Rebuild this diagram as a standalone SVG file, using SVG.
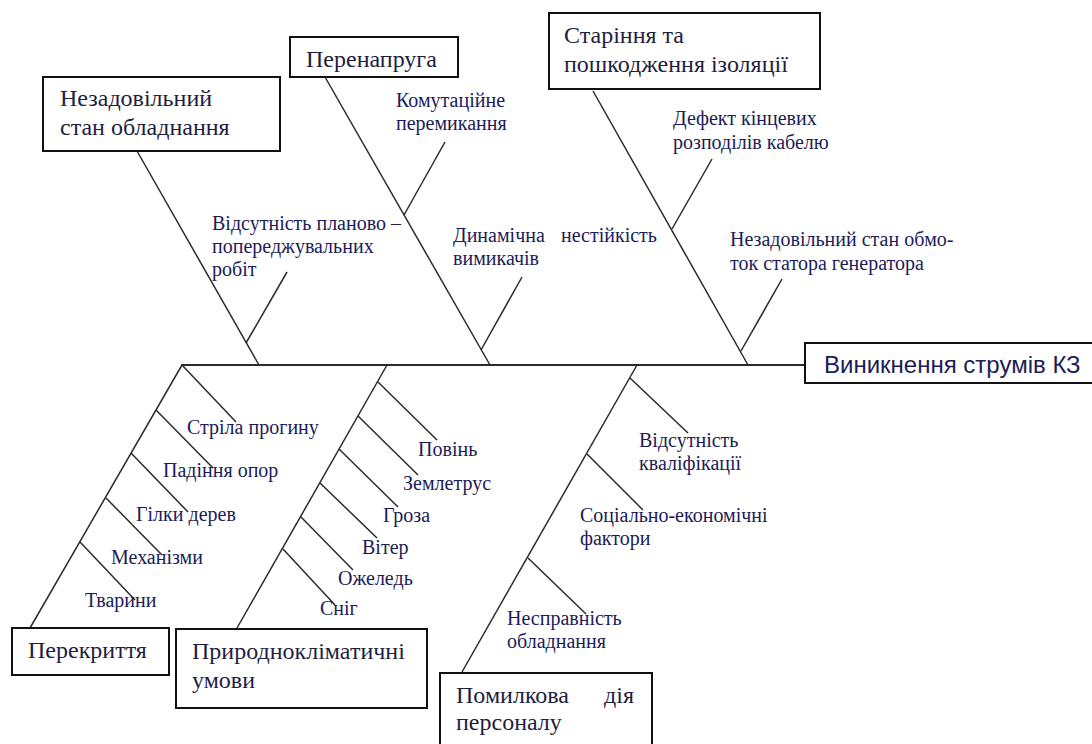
<svg xmlns="http://www.w3.org/2000/svg" width="1092" height="744" viewBox="0 0 1092 744">
<style>
.box{fill:#fff;stroke:#111;stroke-width:2}
.bt{font-family:"Liberation Serif","Times New Roman",serif;font-size:24px;fill:#1e1e40}
.lb{font-family:"Liberation Serif","Times New Roman",serif;font-size:20px;fill:#1c1c58}
.eff{font-family:"Liberation Sans",Arial,sans-serif;font-size:24px;fill:#1c1c58}
.bone{stroke:#2b2b2b;stroke-width:1.5;fill:none}
.spine{stroke:#2b2b2b;stroke-width:2;fill:none}
</style>
<rect width="1092" height="744" fill="#fff"/>
<g id="connectors">
<line class="spine" x1="181" y1="365" x2="805" y2="365"/>
<line class="bone" x1="137" y1="151" x2="259" y2="365"/>
<line class="bone" x1="246" y1="343" x2="287" y2="272"/>
<line class="bone" x1="325" y1="77" x2="490" y2="365"/>
<line class="bone" x1="404" y1="215" x2="445" y2="142"/>
<line class="bone" x1="481" y1="350" x2="522" y2="277"/>
<line class="bone" x1="593" y1="91" x2="748" y2="365"/>
<line class="bone" x1="672" y1="229" x2="712" y2="159"/>
<line class="bone" x1="741" y1="351" x2="782" y2="279"/>
<line class="bone" x1="182" y1="365" x2="30" y2="628"/>
<line class="bone" x1="182" y1="365" x2="236" y2="422"/>
<line class="bone" x1="156" y1="410" x2="213" y2="468"/>
<line class="bone" x1="131" y1="453" x2="188" y2="512"/>
<line class="bone" x1="106" y1="498" x2="162" y2="555"/>
<line class="bone" x1="80" y1="542" x2="135" y2="600"/>
<line class="bone" x1="387" y1="365" x2="237" y2="628"/>
<line class="bone" x1="378" y1="382" x2="437" y2="440"/>
<line class="bone" x1="358" y1="416" x2="418" y2="475"/>
<line class="bone" x1="339" y1="449" x2="398" y2="507"/>
<line class="bone" x1="320" y1="483" x2="377" y2="538"/>
<line class="bone" x1="301" y1="517" x2="353" y2="570"/>
<line class="bone" x1="283" y1="549" x2="335" y2="605"/>
<line class="bone" x1="637" y1="365" x2="462" y2="672"/>
<line class="bone" x1="630" y1="378" x2="688" y2="433"/>
<line class="bone" x1="587" y1="454" x2="643" y2="510"/>
<line class="bone" x1="528" y1="558" x2="586" y2="614"/>
</g>
<g id="effect">
<rect class="box" x="805" y="343" width="300" height="40"/>
<text class="eff" x="824" y="373">Виникнення струмів КЗ</text>
</g>
<g id="cause-equipment">
<rect class="box" x="43" y="77" width="237" height="74"/>
<text class="bt" x="60" y="106">Незадовільний</text>
<text class="bt" x="60" y="135">стан обладнання</text>
</g>
<g id="cause-overvoltage">
<rect class="box" x="290" y="37" width="168" height="40"/>
<text class="bt" x="306" y="67">Перенапруга</text>
</g>
<g id="cause-insulation">
<rect class="box" x="549" y="13" width="271" height="76"/>
<text class="bt" x="564" y="43">Старіння та</text>
<text class="bt" x="564" y="72">пошкодження ізоляції</text>
</g>
<g id="cause-overlap">
<rect class="box" x="12" y="628" width="157" height="47"/>
<text class="bt" x="28" y="658">Перекриття</text>
</g>
<g id="cause-climate">
<rect class="box" x="176" y="629" width="251" height="79"/>
<text class="bt" x="192" y="659">Природнокліматичні</text>
<text class="bt" x="192" y="688">умови</text>
</g>
<g id="cause-personnel">
<rect class="box" x="440" y="673" width="212" height="74"/>
<text class="bt" x="456" y="703">Помилкова</text>
<text class="bt" x="604" y="703">дія</text>
<text class="bt" x="456" y="730">персоналу</text>
</g>
<g id="sub-labels">
<g id="lbl-maintenance"><text class="lb" x="212" y="230">Відсутність планово –</text><text class="lb" x="212" y="253">попереджувальних</text><text class="lb" x="212" y="276">робіт</text></g>
<g id="lbl-switching"><text class="lb" x="396" y="107">Комутаційне</text><text class="lb" x="396" y="130">перемикання</text></g>
<g id="lbl-dynamic"><text class="lb" x="453" y="242">Динамічна</text><text class="lb" x="561" y="242">нестійкість</text><text class="lb" x="453" y="265">вимикачів</text></g>
<g id="lbl-cable"><text class="lb" x="673" y="125">Дефект кінцевих</text><text class="lb" x="673" y="149">розподілів кабелю</text></g>
<g id="lbl-stator"><text class="lb" x="730" y="246">Незадовільний стан обмо-</text><text class="lb" x="730" y="270">ток статора генератора</text></g>
<g id="lbl-sag"><text class="lb" x="187" y="434">Стріла прогину</text></g>
<g id="lbl-poles"><text class="lb" x="163" y="477">Падіння опор</text></g>
<g id="lbl-branches"><text class="lb" x="136" y="521">Гілки дерев</text></g>
<g id="lbl-machines"><text class="lb" x="111" y="564">Механізми</text></g>
<g id="lbl-animals"><text class="lb" x="85" y="607">Тварини</text></g>
<g id="lbl-flood"><text class="lb" x="418" y="456">Повінь</text></g>
<g id="lbl-quake"><text class="lb" x="403" y="490">Землетрус</text></g>
<g id="lbl-storm"><text class="lb" x="383" y="522">Гроза</text></g>
<g id="lbl-wind"><text class="lb" x="362" y="554">Вітер</text></g>
<g id="lbl-ice"><text class="lb" x="338" y="585">Ожеледь</text></g>
<g id="lbl-snow"><text class="lb" x="320" y="615">Сніг</text></g>
<g id="lbl-qualification"><text class="lb" x="639" y="447">Відсутність</text><text class="lb" x="639" y="470">кваліфікації</text></g>
<g id="lbl-socio"><text class="lb" x="580" y="522">Соціально-економічні</text><text class="lb" x="580" y="545">фактори</text></g>
<g id="lbl-faulty"><text class="lb" x="507" y="625">Несправність</text><text class="lb" x="507" y="648">обладнання</text></g>
</g>
</svg>
